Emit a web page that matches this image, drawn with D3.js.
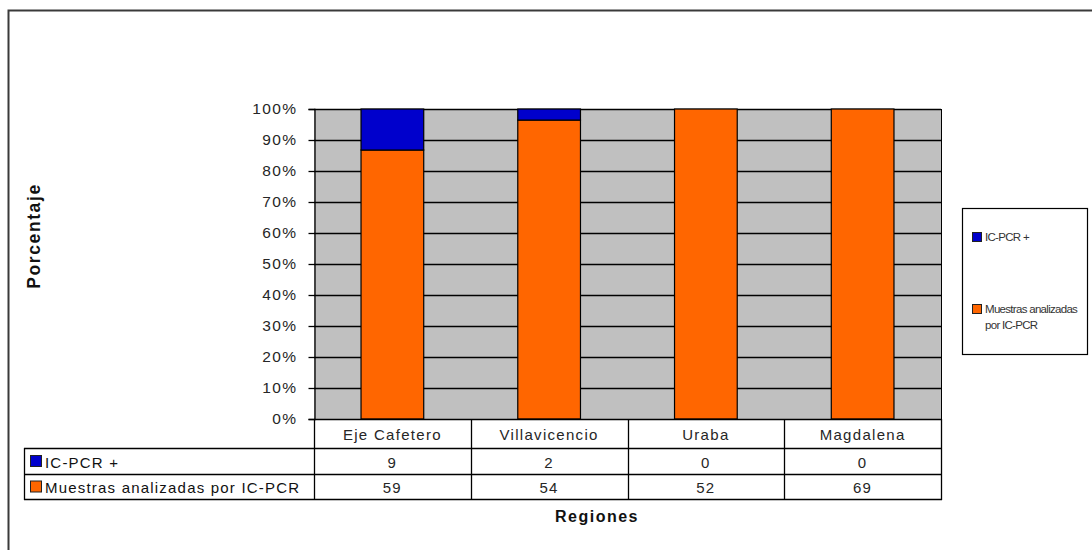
<!DOCTYPE html>
<html>
<head>
<meta charset="utf-8">
<script src="https://cdn.jsdelivr.net/npm/d3@7"></script>
<style>
  html, body { margin: 0; padding: 0; background: #fff; }
  svg { display: block; font-family: "Liberation Sans", Arial, sans-serif; }
</style>
</head>
<body>
<svg id="chart" width="1092" height="550"></svg>
<script>
// Regions and sample counts
const categories = ["Eje Cafetero", "Villavicencio", "Uraba", "Magdalena"];
const positives = [9, 2, 0, 0];          // IC-PCR +
const analysed = [59, 54, 52, 69];       // Muestras analizadas por IC-PCR
const seriesNames = ["IC-PCR +", "Muestras analizadas por IC-PCR"];
const yTicks = [0, 0.1, 0.2, 0.3, 0.4, 0.5, 0.6, 0.7, 0.8, 0.9, 1.0];

const colors = { pos: "#0000CC", ana: "#FF6600", plotBg: "#C0C0C0", text: "#262626" };

const svg = d3.select("#chart");

// Outer chart frame
svg.append("rect")
  .attr("x", 8.5).attr("y", 10.5)
  .attr("width", 1100).attr("height", 560)
  .attr("fill", "none").attr("stroke", "#3a3a3a").attr("stroke-width", 2);

const plot = { left: 314, right: 941, top: 109, bottom: 419 };

const x = d3.scaleBand()
  .domain(categories)
  .range([plot.left, plot.right])
  .paddingInner(0.6)
  .paddingOuter(0.3);

const xCell = d3.scaleBand()
  .domain(categories)
  .range([plot.left, plot.right])
  .padding(0);

const y = d3.scaleLinear().domain([0, 1]).range([plot.bottom, plot.top]);

// Plot background
svg.append("rect")
  .attr("x", plot.left).attr("y", plot.top)
  .attr("width", plot.right - plot.left).attr("height", plot.bottom - plot.top)
  .attr("fill", colors.plotBg);

// Horizontal gridlines
svg.append("g").selectAll("line")
  .data(yTicks.filter(t => t > 0))
  .join("line")
  .attr("x1", plot.left).attr("x2", plot.right)
  .attr("y1", d => Math.round(y(d)) + 0.5).attr("y2", d => Math.round(y(d)) + 0.5)
  .attr("stroke", "#000").attr("stroke-width", 1.3);

// Right border of the plot area
svg.append("line")
  .attr("x1", plot.right + 0.5).attr("x2", plot.right + 0.5)
  .attr("y1", plot.top).attr("y2", plot.bottom)
  .attr("stroke", "#000").attr("stroke-width", 1);

// Stacked percentage data
const rows = categories.map((c, i) => {
  const total = positives[i] + analysed[i];
  return { cat: c, ana: analysed[i] / total, pos: positives[i] / total };
});

const bars = svg.append("g");
// Orange segment (bottom)
bars.selectAll("rect.ana")
  .data(rows)
  .join("rect")
  .attr("class", "ana")
  .attr("x", d => x(d.cat)).attr("width", x.bandwidth())
  .attr("y", d => y(d.ana)).attr("height", d => y(0) - y(d.ana))
  .attr("fill", colors.ana).attr("stroke", "#000").attr("stroke-width", 1.2);
// Blue segment (top)
bars.selectAll("rect.pos")
  .data(rows.filter(d => d.pos > 0))
  .join("rect")
  .attr("class", "pos")
  .attr("x", d => x(d.cat)).attr("width", x.bandwidth())
  .attr("y", d => y(d.ana + d.pos)).attr("height", d => y(d.ana) - y(d.ana + d.pos))
  .attr("fill", colors.pos).attr("stroke", "#000").attr("stroke-width", 1.2);

// Y axis
const yAxis = svg.append("g")
  .attr("transform", `translate(${plot.left + 0.5},0)`)
  .call(d3.axisLeft(y).tickValues(yTicks).tickFormat(d3.format(".0%")).tickSize(6).tickPadding(11));
yAxis.select(".domain").attr("stroke", "#000").attr("stroke-width", 1.3);
yAxis.selectAll(".tick line").attr("stroke", "#000").attr("stroke-width", 1.3);
yAxis.selectAll(".tick text")
  .attr("fill", colors.text)
  .style("font-size", "15.5px").style("letter-spacing", "1.4px")
  .style("font-family", "'Liberation Sans', Arial, sans-serif");

// Y axis title
svg.append("text")
  .attr("transform", "translate(34,236) rotate(-90)")
  .attr("text-anchor", "middle").attr("dominant-baseline", "central")
  .attr("fill", "#111")
  .style("font-size", "17.5px").style("font-weight", "bold").style("letter-spacing", "1.6px")
  .text("Porcentaje");

// Data table
const table = { left: 24, header: 419, r1: 448, r2: 474, bottom: 499 };
const tg = svg.append("g").attr("stroke", "#000").attr("stroke-width", 1.3);
[table.r1, table.r2, table.bottom].forEach(yy => {
  tg.append("line").attr("x1", table.left).attr("x2", plot.right + 1)
    .attr("y1", yy + 0.5).attr("y2", yy + 0.5);
});
tg.append("line").attr("x1", plot.left).attr("x2", plot.right + 1)
  .attr("y1", table.header + 0.5).attr("y2", table.header + 0.5);
tg.append("line").attr("x1", table.left + 0.5).attr("x2", table.left + 0.5)
  .attr("y1", table.r1).attr("y2", table.bottom + 1);
tg.append("line").attr("x1", plot.left + 0.5).attr("x2", plot.left + 0.5)
  .attr("y1", table.header).attr("y2", table.bottom + 1);
categories.forEach(c => {
  const xr = Math.round(xCell(c) + xCell.bandwidth()) + 0.5;
  tg.append("line").attr("x1", xr).attr("x2", xr)
    .attr("y1", table.header).attr("y2", table.bottom + 1);
});

const cellText = (txt, cx, cy) => svg.append("text")
  .attr("x", cx).attr("y", cy)
  .attr("text-anchor", "middle").attr("dominant-baseline", "central")
  .attr("fill", colors.text)
  .style("font-size", "15px").style("letter-spacing", "1.3px")
  .text(txt);

categories.forEach((c, i) => {
  const cx = xCell(c) + xCell.bandwidth() / 2;
  cellText(c, cx, (table.header + table.r1) / 2 + 1);
  cellText(positives[i], cx, (table.r1 + table.r2) / 2 + 1);
  cellText(analysed[i], cx, (table.r2 + table.bottom) / 2 + 1);
});

// Row labels with colour keys
[[seriesNames[0], colors.pos, (table.r1 + table.r2) / 2],
 [seriesNames[1], colors.ana, (table.r2 + table.bottom) / 2]].forEach(([name, col, cy]) => {
  svg.append("rect")
    .attr("x", 30.5).attr("y", cy - 5.5).attr("width", 11).attr("height", 11)
    .attr("fill", col).attr("stroke", "#222").attr("stroke-width", 1);
  svg.append("text")
    .attr("x", 45).attr("y", cy + 1)
    .attr("dominant-baseline", "central")
    .attr("fill", "#111")
    .style("font-size", "15px").style("letter-spacing", "1.2px")
    .text(name);
});

// X axis title
svg.append("text")
  .attr("x", 597).attr("y", 516)
  .attr("text-anchor", "middle").attr("dominant-baseline", "central")
  .attr("fill", "#111")
  .style("font-size", "16px").style("font-weight", "bold").style("letter-spacing", "1.5px")
  .text("Regiones");

// Legend
const lg = svg.append("g");
lg.append("rect")
  .attr("x", 962.5).attr("y", 208.5).attr("width", 125).attr("height", 146)
  .attr("fill", "#fff").attr("stroke", "#000").attr("stroke-width", 1.2);
const legendItems = [
  { color: colors.pos, lines: ["IC-PCR +"], y: 237 },
  { color: colors.ana, lines: ["Muestras analizadas", "por IC-PCR"], y: 309 }
];
legendItems.forEach(item => {
  lg.append("rect")
    .attr("x", 972.5).attr("y", item.y - 4.5).attr("width", 9).attr("height", 9)
    .attr("fill", item.color).attr("stroke", "#222").attr("stroke-width", 1);
  item.lines.forEach((ln, k) => {
    lg.append("text")
      .attr("x", 985).attr("y", item.y + k * 16)
      .attr("dominant-baseline", "central")
      .attr("fill", "#333")
      .style("font-size", "11.5px").style("letter-spacing", "-0.7px")
      .text(ln);
  });
});
</script>
</body>
</html>
